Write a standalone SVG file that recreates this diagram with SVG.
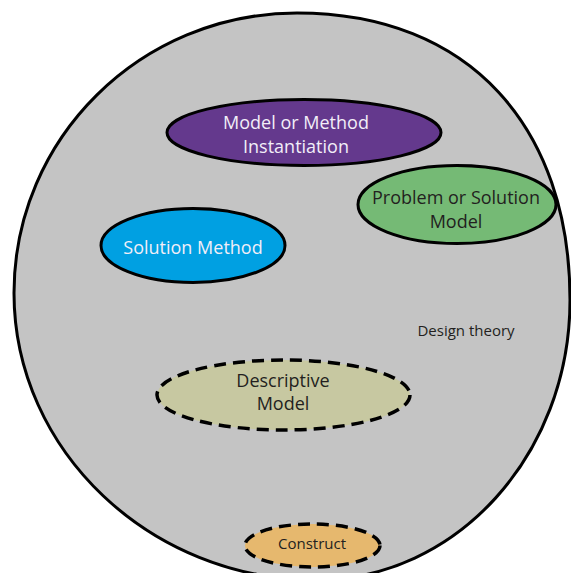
<svg xmlns="http://www.w3.org/2000/svg" width="571" height="573" viewBox="0 0 571 573">
<style>
.solid{stroke:#000;stroke-width:3}
.dashed{stroke:#000;stroke-width:3.5;stroke-dasharray:12 7}
.t{font-family:"Open Sans","Liberation Sans",sans-serif;text-anchor:middle}
.w{fill:#f2eef8;font-size:18px}
.d{fill:#231f20;font-size:18px}
.s{fill:#231f20;font-size:15px}
</style>
<rect width="571" height="573" fill="#fff"/>
<g id="design-theory">
<path class="solid" fill="#c4c4c4" d="M297,13 C470,13 570,128 570,300 C570,455 456,580 316,580 C151,580 14,451 14,293 C14,138 141,13 297,13 Z"/>
<text class="t s" x="466" y="336">Design theory</text>
</g>
<g id="connectors"></g>
<g id="instantiation">
<ellipse class="solid" fill="#64398d" cx="304" cy="132.5" rx="137" ry="33"/>
<text class="t w" x="296" y="129">Model or Method</text>
<text class="t w" x="296" y="153">Instantiation</text>
</g>
<g id="problem-model">
<ellipse class="solid" fill="#75ba75" cx="457" cy="204.5" rx="99" ry="39"/>
<text class="t d" x="456" y="204">Problem or Solution</text>
<text class="t d" x="456" y="228">Model</text>
</g>
<g id="solution-method">
<ellipse class="solid" fill="#00a0e2" cx="193" cy="245.5" rx="92" ry="37"/>
<text class="t w" x="193" y="254">Solution Method</text>
</g>
<g id="descriptive-model">
<ellipse class="dashed" fill="#c7c8a1" cx="283.5" cy="395" rx="126.5" ry="35"/>
<text class="t d" x="283" y="387">Descriptive</text>
<text class="t d" x="283" y="410">Model</text>
</g>
<g id="construct">
<ellipse class="dashed" fill="#e6b86e" cx="312.5" cy="545.5" rx="67.5" ry="21.5"/>
<text class="t s" x="312" y="549">Construct</text>
</g>
</svg>
